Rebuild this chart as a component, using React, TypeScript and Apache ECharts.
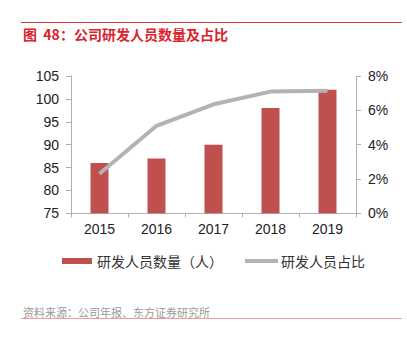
import React, { useEffect, useRef } from "react";
import * as echarts from "echarts";

const years = ["2015", "2016", "2017", "2018", "2019"];
const staffCount = [86, 87, 90, 98, 102];
const staffRatio = [0.023, 0.051, 0.0635, 0.0709, 0.0714];
const titleText = "图  48：公司研发人员数量及占比";
const sourceText = "资料来源：公司年报、东方证券研究所";
const barName = "研发人员数量（人）";
const lineName = "研发人员占比";

export default function App() {
  const ref = useRef<HTMLDivElement>(null);
  useEffect(() => {
    if (!ref.current) return;
    const chart = echarts.init(ref.current, null, { renderer: "svg" });
    const numFont = "'Liberation Sans', Arial, sans-serif";
    const cjkFont = "'Noto Sans CJK SC', sans-serif";
    const barColor = "#c0504d";
    const lineColor = "#b3b3b3";
    chart.setOption({
      animation: false,
      backgroundColor: "#ffffff",
      grid: { left: 71, right: 51, top: 76, bottom: 124.7, containLabel: false },
      xAxis: {
        type: "category",
        data: years,
        axisLine: { lineStyle: { color: "#b0b0b0", width: 1 } },
        axisTick: { show: true, length: 4, lineStyle: { color: "#b0b0b0" } },
        axisLabel: { fontSize: 14, color: "#222", fontFamily: numFont, margin: 9 },
      },
      yAxis: [
        {
          type: "value",
          min: 75,
          max: 105,
          interval: 5,
          splitLine: { show: false },
          axisLine: { show: true, lineStyle: { color: "#b0b0b0" } },
          axisTick: { show: true, length: 5, lineStyle: { color: "#b0b0b0" } },
          axisLabel: { fontSize: 14, color: "#222", fontFamily: numFont, margin: 12 },
        },
        {
          type: "value",
          min: 0,
          max: 0.08,
          interval: 0.02,
          position: "right",
          splitLine: { show: false },
          axisLine: { show: true, lineStyle: { color: "#b0b0b0" } },
          axisTick: { show: true, length: 5, lineStyle: { color: "#b0b0b0" } },
          axisLabel: {
            fontSize: 14,
            color: "#222",
            fontFamily: numFont,
            margin: 12,
            formatter: (v: number) => Math.round(v * 100) + "%",
          },
        },
      ],
      series: [
        {
          name: barName,
          type: "bar",
          data: staffCount,
          barWidth: 18,
          itemStyle: { color: barColor },
          yAxisIndex: 0,
        },
        {
          name: lineName,
          type: "line",
          data: staffRatio,
          yAxisIndex: 1,
          symbol: "none",
          lineStyle: { color: lineColor, width: 4 },
          itemStyle: { color: lineColor },
        },
      ],
      graphic: [
        {
          type: "line",
          shape: { x1: 21, y1: 22.5, x2: 402, y2: 22.5 },
          style: { stroke: "#e0393d", lineWidth: 1 },
        },
        {
          type: "text",
          left: 23,
          top: 27,
          style: {
            text: titleText,
            fill: "#d9232a",
            font: "bold 14px 'Noto Sans CJK SC', sans-serif",
          },
        },
        {
          type: "rect",
          shape: { x: 62, y: 258, width: 30, height: 6 },
          style: { fill: barColor },
        },
        {
          type: "text",
          x: 97,
          y: 261,
          style: {
            text: barName,
            fill: "#333",
            font: "14px " + cjkFont,
            verticalAlign: "middle",
          },
        },
        {
          type: "line",
          shape: { x1: 245, y1: 261, x2: 278, y2: 261 },
          style: { stroke: lineColor, lineWidth: 4 },
        },
        {
          type: "text",
          x: 281,
          y: 261,
          style: {
            text: lineName,
            fill: "#333",
            font: "14px " + cjkFont,
            verticalAlign: "middle",
          },
        },
        {
          type: "text",
          left: 23,
          top: 306,
          style: {
            text: sourceText,
            fill: "#9a9a9a",
            font: "11px 'Noto Sans CJK SC', sans-serif",
          },
        },
        {
          type: "line",
          shape: { x1: 21, y1: 318.5, x2: 402, y2: 318.5 },
          style: { stroke: "#f29a9a", lineWidth: 1 },
        },
      ],
    });
    return () => chart.dispose();
  }, []);
  return (
    <div
      ref={ref}
      style={{ position: "absolute", left: 0, top: 0, width: 407, height: 338 }}
    />
  );
}
